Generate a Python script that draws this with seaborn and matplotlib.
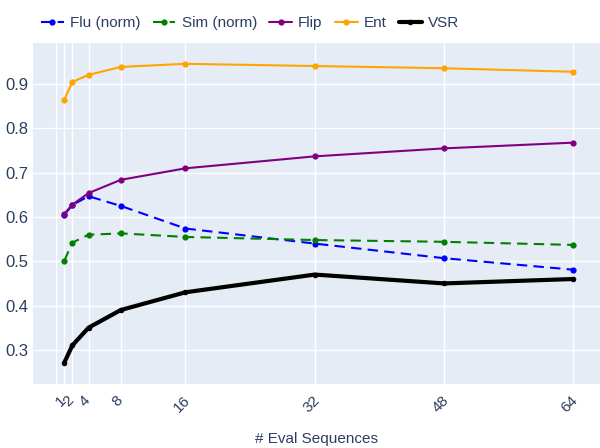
import pandas as pd
import matplotlib
matplotlib.use('Agg')
import matplotlib.pyplot as plt
import matplotlib.transforms as mtransforms
import seaborn as sns

# data
eval_seqs = [1, 2, 4, 8, 16, 32, 48, 64]
flu_norm = [0.605, 0.627, 0.647, 0.625, 0.574, 0.540, 0.507, 0.481]
sim_norm = [0.501, 0.542, 0.560, 0.563, 0.555, 0.548, 0.544, 0.537]
flip = [0.607, 0.628, 0.654, 0.684, 0.710, 0.737, 0.755, 0.768]
ent = [0.865, 0.905, 0.921, 0.939, 0.946, 0.941, 0.936, 0.928]
vsr = [0.271, 0.310, 0.350, 0.390, 0.430, 0.470, 0.450, 0.460]

tick_vals = [0, 1, 2, 4, 8, 16, 32, 48, 64]
tick_labels = ['', '1', '2', '4', '8', '16', '32', '48', '64']

series = [
    ('Flu (norm)', flu_norm, 'blue', '--', 1.5),
    ('Sim (norm)', sim_norm, 'green', '--', 1.5),
    ('Flip', flip, 'purple', '-', 1.5),
    ('Ent', ent, 'orange', '-', 1.5),
    ('VSR', vsr, 'black', '-', 3),
]

sns.set_theme(style='white')
plt.rcParams['font.family'] = ['Liberation Sans', 'DejaVu Sans']
text_col = '#2a3f5f'

fig = plt.figure(figsize=(6, 4.48), dpi=100)
ax = fig.add_axes([0.055, 0.143, 0.945, 0.761])
ax.set_facecolor('#E5ECF6')

for name, vals, col, ls, lw in series:
    df = pd.DataFrame({'x': eval_seqs, 'y': vals})
    sns.lineplot(data=df, x='x', y='y', ax=ax, color=col, linewidth=lw,
                 marker='o', markersize=4.5 if lw < 2 else 4, markeredgewidth=0,
                 label=name)
    line = ax.get_lines()[-1]
    if ls == '--':
        line.set_dashes((5, 3))

ax.set_xlim(-2.87, 67.3)
ax.set_ylim(0.223, 0.993)
ax.set_xticks(tick_vals)
ax.set_xticklabels(tick_labels, rotation=45, ha='center', va='top')
ax.set_yticks([0.3, 0.4, 0.5, 0.6, 0.7, 0.8, 0.9])
ax.set_yticklabels(['0.3', '0.4', '0.5', '0.6', '0.7', '0.8', '0.9'])
ax.tick_params(axis='y', length=0, labelsize=12, colors=text_col, pad=3)
ax.tick_params(axis='x', length=0, labelsize=11, colors=text_col, pad=7)
shift = mtransforms.ScaledTranslation(-3.5 / 100, 0, fig.dpi_scale_trans)
for lab in ax.get_xticklabels():
    lab.set_transform(lab.get_transform() + shift)
ax.grid(True, color='white', linewidth=1)
ax.set_axisbelow(True)
for s in ax.spines.values():
    s.set_visible(False)
ax.set_xlabel('# Eval Sequences', fontsize=11, color=text_col, labelpad=12)
ax.set_ylabel('')

handles, labels = ax.get_legend_handles_labels()
ax.get_legend().remove()
fig.legend(handles, labels, loc='upper left', bbox_to_anchor=(0.045, 0.995),
           ncol=5, frameon=False, fontsize=11, handlelength=1.5,
           columnspacing=0.8, handletextpad=0.4, labelcolor=text_col)

plt.savefig('out.png', dpi=100)
